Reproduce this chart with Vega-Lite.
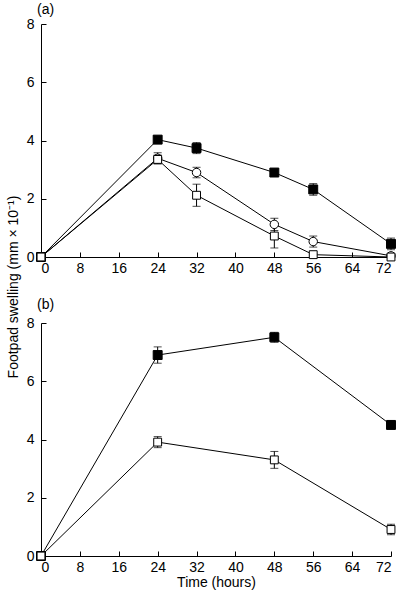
{
  "$schema": "https://vega.github.io/schema/vega-lite/v6.json",
  "padding": {"left": 7, "top": 3, "right": 4, "bottom": 2},
  "background": "white",
  "title": {"text": "Footpad swelling (mm × 10⁻¹)", "orient": "left", "anchor": "middle", "fontSize": 14, "fontWeight": "normal", "font": "Liberation Sans", "color": "black", "offset": 5, "dx": 9},
  "config": {
    "view": {"stroke": null},
    "font": "Liberation Sans",
    "axis": {"domainColor": "black", "tickColor": "black", "labelColor": "black", "labelFont": "Liberation Sans", "labelFontSize": 14, "grid": false, "tickSize": -5, "domainWidth": 1, "tickWidth": 1, "titleFont": "Liberation Sans", "titleFontSize": 14, "titleFontWeight": "normal", "titleColor": "black"},
    "axisX": {"labelPadding": 9},
    "axisY": {"labelPadding": 12},
    "title": {"font": "Liberation Sans", "fontSize": 14, "fontWeight": "normal", "color": "black"}
  },
  "datasets": {
    "points": [
      {"panel": "a", "series": "A", "time": 0, "mean": 0, "err": 0},
      {"panel": "a", "series": "A", "time": 24, "mean": 4.03, "err": 0.1},
      {"panel": "a", "series": "A", "time": 32, "mean": 3.74, "err": 0.19},
      {"panel": "a", "series": "A", "time": 48, "mean": 2.9, "err": 0.1},
      {"panel": "a", "series": "A", "time": 56, "mean": 2.32, "err": 0.2},
      {"panel": "a", "series": "A", "time": 72, "mean": 0.45, "err": 0.2},
      {"panel": "a", "series": "B", "time": 0, "mean": 0, "err": 0},
      {"panel": "a", "series": "B", "time": 24, "mean": 3.39, "err": 0.19},
      {"panel": "a", "series": "B", "time": 32, "mean": 2.9, "err": 0.18},
      {"panel": "a", "series": "B", "time": 48, "mean": 1.12, "err": 0.21},
      {"panel": "a", "series": "B", "time": 56, "mean": 0.53, "err": 0.19},
      {"panel": "a", "series": "B", "time": 72, "mean": 0.04, "err": 0.03},
      {"panel": "a", "series": "C", "time": 0, "mean": 0, "err": 0},
      {"panel": "a", "series": "C", "time": 24, "mean": 3.35, "err": 0.15},
      {"panel": "a", "series": "C", "time": 32, "mean": 2.12, "err": 0.38},
      {"panel": "a", "series": "C", "time": 48, "mean": 0.72, "err": 0.41},
      {"panel": "a", "series": "C", "time": 56, "mean": 0.08, "err": 0.04},
      {"panel": "a", "series": "C", "time": 72, "mean": 0.0, "err": 0},
      {"panel": "b", "series": "A", "time": 0, "mean": 0, "err": 0},
      {"panel": "b", "series": "A", "time": 24, "mean": 6.9, "err": 0.28},
      {"panel": "b", "series": "A", "time": 48, "mean": 7.51, "err": 0.17},
      {"panel": "b", "series": "A", "time": 72, "mean": 4.5, "err": 0.14},
      {"panel": "b", "series": "C", "time": 0, "mean": 0, "err": 0},
      {"panel": "b", "series": "C", "time": 24, "mean": 3.91, "err": 0.19},
      {"panel": "b", "series": "C", "time": 48, "mean": 3.3, "err": 0.29},
      {"panel": "b", "series": "C", "time": 72, "mean": 0.91, "err": 0.18}
    ]
  },
  "spacing": 23,
  "vconcat": [
    {
      "width": 350,
      "height": 233,
      "data": {"name": "points"},
      "transform": [{"filter": "datum.panel == 'a'"}],
      "title": {"text": "(a)", "anchor": "start", "frame": "group", "offset": 0, "dx": -4},
      "encoding": {
        "x": {"field": "time", "type": "quantitative", "scale": {"domain": [0, 72], "nice": false}, "axis": {"values": [0, 8, 16, 24, 32, 40, 48, 56, 64, 72], "title": null}}
      },
      "layer": [
        {
          "mark": {"type": "line", "color": "black", "strokeWidth": 1},
          "encoding": {
            "y": {"field": "mean", "type": "quantitative", "scale": {"domain": [0, 8], "nice": false}, "axis": {"values": [0, 2, 4, 6, 8], "title": null}},
            "detail": {"field": "series"}
          }
        },
        {
          "mark": {"type": "errorbar", "color": "black", "ticks": {"size": 8, "color": "black"}, "rule": {"strokeWidth": 1}},
          "encoding": {
            "y": {"field": "mean", "type": "quantitative", "title": null},
            "yError": {"field": "err"},
            "detail": {"field": "series"}
          }
        },
        {
          "mark": {"type": "point", "filled": true, "stroke": "black", "strokeWidth": 1, "opacity": 1},
          "encoding": {
            "y": {"field": "mean", "type": "quantitative", "title": null},
            "shape": {"field": "series", "type": "nominal", "scale": {"domain": ["A", "B", "C"], "range": ["square", "circle", "square"]}, "legend": null},
            "fill": {"field": "series", "type": "nominal", "scale": {"domain": ["A", "B", "C"], "range": ["black", "white", "white"]}, "legend": null},
            "size": {"field": "series", "type": "nominal", "scale": {"domain": ["A", "B", "C"], "range": [80, 62, 80]}, "legend": null}
          }
        }
      ]
    },
    {
      "width": 350,
      "height": 233,
      "data": {"name": "points"},
      "transform": [{"filter": "datum.panel == 'b'"}],
      "title": {"text": "(b)", "anchor": "start", "frame": "group", "offset": 4, "dx": -4},
      "encoding": {
        "x": {"field": "time", "type": "quantitative", "scale": {"domain": [0, 72], "nice": false}, "axis": {"values": [0, 8, 16, 24, 32, 40, 48, 56, 64, 72], "title": "Time (hours)", "titlePadding": 1}}
      },
      "layer": [
        {
          "mark": {"type": "line", "color": "black", "strokeWidth": 1},
          "encoding": {
            "y": {"field": "mean", "type": "quantitative", "scale": {"domain": [0, 8], "nice": false}, "axis": {"values": [0, 2, 4, 6, 8], "title": null}},
            "detail": {"field": "series"}
          }
        },
        {
          "mark": {"type": "errorbar", "color": "black", "ticks": {"size": 8, "color": "black"}, "rule": {"strokeWidth": 1}},
          "encoding": {
            "y": {"field": "mean", "type": "quantitative", "title": null},
            "yError": {"field": "err"},
            "detail": {"field": "series"}
          }
        },
        {
          "mark": {"type": "point", "filled": true, "stroke": "black", "strokeWidth": 1, "opacity": 1},
          "encoding": {
            "y": {"field": "mean", "type": "quantitative", "title": null},
            "shape": {"field": "series", "type": "nominal", "scale": {"domain": ["A", "B", "C"], "range": ["square", "circle", "square"]}, "legend": null},
            "fill": {"field": "series", "type": "nominal", "scale": {"domain": ["A", "B", "C"], "range": ["black", "white", "white"]}, "legend": null},
            "size": {"field": "series", "type": "nominal", "scale": {"domain": ["A", "B", "C"], "range": [80, 62, 80]}, "legend": null}
          }
        }
      ]
    }
  ]
}
